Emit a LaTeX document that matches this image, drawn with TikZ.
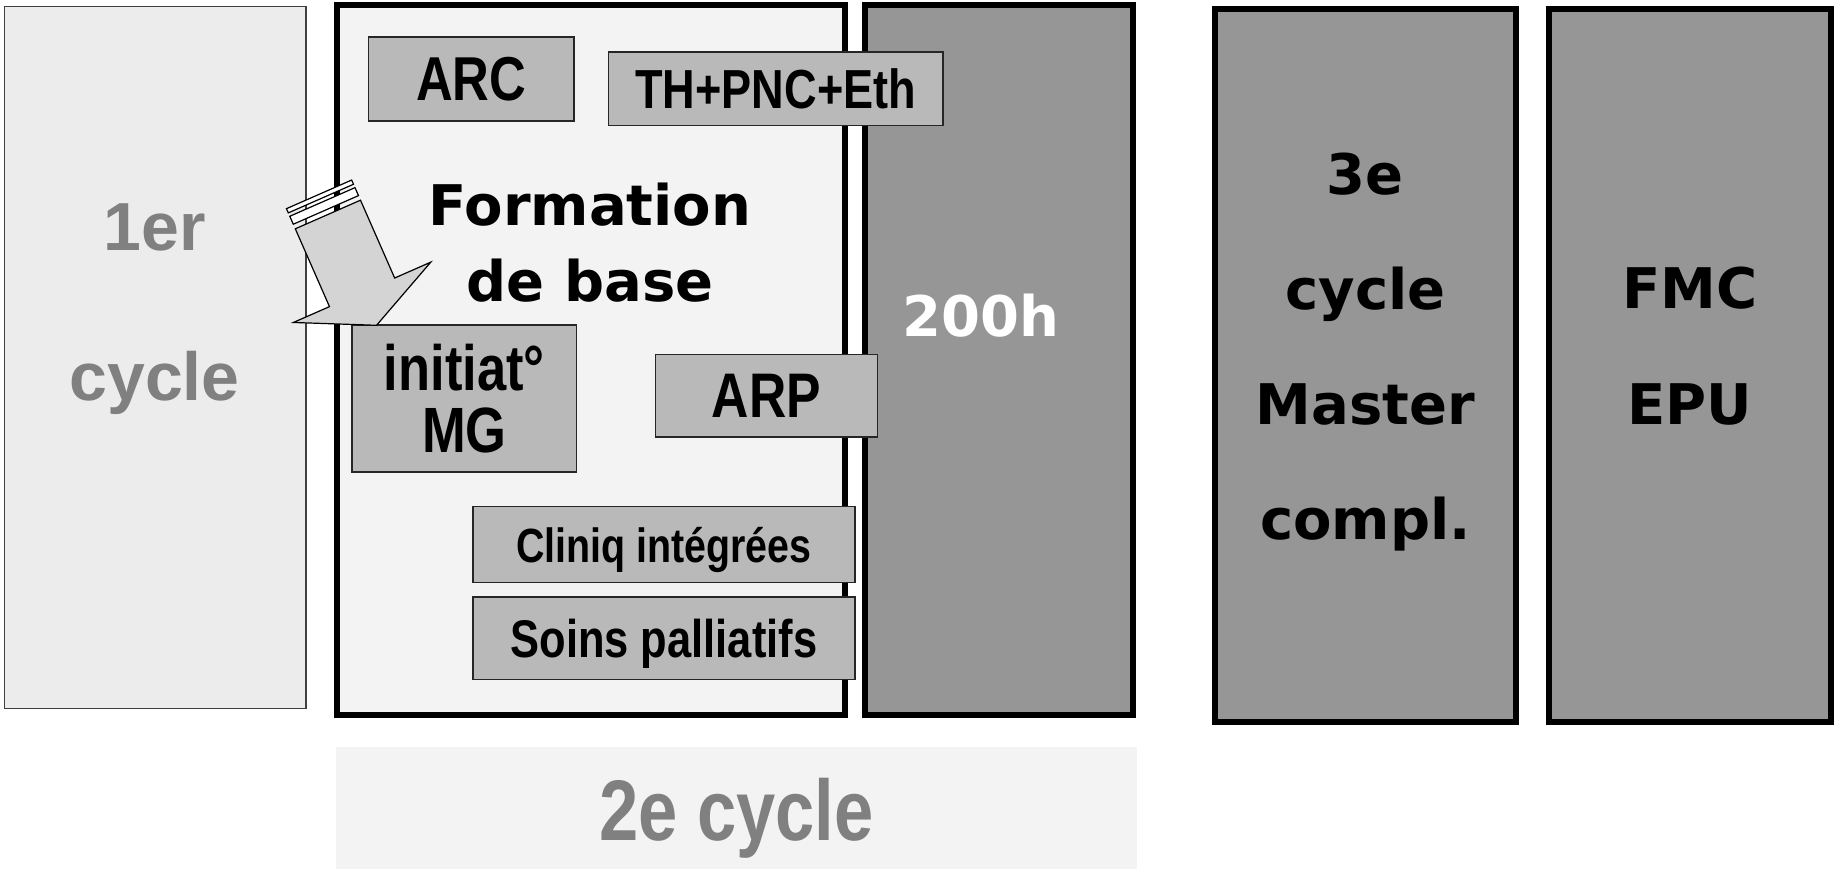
\documentclass[tikz,border=0pt]{standalone}
\usepackage{fontspec}
\setmainfont{DejaVu Sans}
\newfontfamily\etroit[FakeStretch=0.82]{Liberation Sans}
\newfontfamily\arialfont{Liberation Sans}
\usepackage{tikz}
\usetikzlibrary{positioning}

\definecolor{fondclair}{HTML}{ECECEC}
\definecolor{fondpale}{HTML}{F3F3F3}
\definecolor{fondfonce}{HTML}{969696}
\definecolor{fondmodule}{HTML}{B9B9B9}
\definecolor{fondfleche}{HTML}{D4D4D4}
\definecolor{textegris}{HTML}{808080}

\tikzset{
  colonne/.style={draw=black, line width=6pt, fill=fondfonce, inner sep=0pt, outer sep=0pt, anchor=north west},
  module/.style={draw=black!85, line width=1.6pt, fill=fondmodule, inner sep=0pt, outer sep=0pt,
    anchor=north west, align=center, text depth=0pt},
  titre/.style={inner sep=0pt, align=center},
}

\begin{document}
\begin{tikzpicture}[x=1pt, y=-1pt]
\useasboundingbox (0,0) rectangle (1836,869);

% grandes colonnes
\node[colonne, draw=black!75, line width=1.5pt, fill=fondclair, minimum width=301.7pt, minimum height=702pt] (premier) at (4.3,6.7) {};
\node[colonne, fill=fondpale, minimum width=508pt, minimum height=709.5pt] (formation) at (336.7,5.3) {};
\node[colonne, minimum width=268pt, minimum height=709.5pt] (stage) at (864.8,5.3) {};
\node[colonne, minimum width=300.7pt, minimum height=712.8pt] (troisieme) at (1215,9) {};
\node[colonne, minimum width=282pt, minimum height=712.8pt] (fmc) at (1548.6,9) {};
\node[fill=fondpale, inner sep=0pt, anchor=north west, minimum width=801pt, minimum height=122pt] (deuxieme) at (336,747) {};

% textes des colonnes
\node[titre, text=textegris, font=\arialfont\bfseries\fontsize{68}{150}\selectfont] (t1) at (154.6,309) {1er\\cycle};
\node[titre, text=white, font=\bfseries\fontsize{56}{68}\selectfont] (t200) at (981,316) {200h};
\node[titre, font=\bfseries\fontsize{56}{115}\selectfont] (t3) at (1365.3,352) {3e\\cycle\\Master\\compl.};
\node[titre, font=\bfseries\fontsize{56}{116}\selectfont] (tfmc) at (1689.6,346) {FMC\\EPU};
\node[titre, text=textegris, font=\etroit\bfseries\fontsize{86}{100}\selectfont] (t2) at (736.5,818) {2e cycle};

% modules
\node[module, font=\etroit\bfseries\fontsize{62}{62}\selectfont, minimum width=205.6pt, minimum height=83.9pt] (arc) at (368.5,37.1) {ARC};
\node[module, font=\etroit\bfseries\fontsize{55}{55}\selectfont, minimum width=334.4pt, minimum height=73.4pt] (th) at (608.5,52.3) {TH+PNC+Eth};
\node[module, font=\etroit\bfseries\fontsize{64}{62}\selectfont, minimum width=224.4pt, minimum height=147.1pt] (initiat) at (352.1,325.1) {initiat°\\MG};
\node[module, font=\etroit\bfseries\fontsize{63}{63}\selectfont, minimum width=222.1pt, minimum height=82.7pt] (arp) at (655.3,354.4) {ARP};
\node[module, font=\etroit\bfseries\fontsize{48}{48}\selectfont, minimum width=382.4pt, minimum height=75.7pt] (cliniq) at (472.7,506.6) {Cliniq intégrées};
\node[module, font=\etroit\bfseries\fontsize{53}{53}\selectfont, minimum width=382.4pt, minimum height=82.7pt] (soins) at (472.7,596.8) {Soins palliatifs};

\node[titre, font=\bfseries\fontsize{56}{76}\selectfont] (tforma) at (590,243) {Formation\\de base};

% fleche rayee
\begin{scope}[shift={(327.9,214.5)}, rotate=23.7]
  \draw[line width=1.2pt, fill=white] (-35.6,-22) rectangle (35.6,-17.4);
  \draw[line width=1.2pt, fill=white] (-35.6,-13.7) rectangle (35.6,-5);
  \draw[line width=1.2pt, fill=fondfleche] (-35.6,0) -- (-35.6,85) -- (-75,85) -- (0,121)
    -- (75,85) -- (35.6,85) -- (35.6,0) -- cycle;
\end{scope}
\end{tikzpicture}
\end{document}
